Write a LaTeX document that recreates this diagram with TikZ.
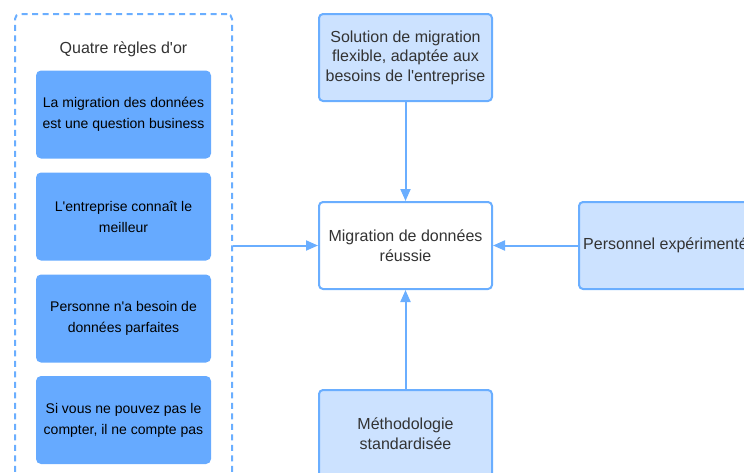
\documentclass[tikz,border=0pt]{standalone}
\usepackage{fontspec}
\setmainfont{Liberation Sans}[Ligatures=TeXOff]
\usetikzlibrary{arrows.meta}
\definecolor{edge}{HTML}{6AAEFF}
\definecolor{light}{HTML}{CCE2FF}
\definecolor{rule}{HTML}{66AAFF}
\definecolor{ink}{HTML}{333333}
\tikzset{
  lightbox/.style={draw=edge, line width=2pt, fill=light, rounded corners=4pt, minimum width=173pt, minimum height=87pt, inner sep=0pt, align=center, text=ink, font=\fontsize{16}{19.4}\selectfont},
  whitebox/.style={lightbox, fill=white},
  rulebox/.style={fill=rule, rounded corners=5pt, minimum width=175pt, minimum height=88pt, inner sep=0pt, align=center, text=black, font=\fontsize{14}{21}\selectfont},
  frame/.style={draw=edge, line width=2pt, dash pattern=on 6pt off 4.5pt, rounded corners=5pt, minimum width=217pt, minimum height=480pt, inner sep=0pt},
  link/.style={draw=edge, line width=2pt, -{Triangle[length=12pt,width=10pt]}}
}
\begin{document}
\begin{tikzpicture}[x=1pt,y=-1pt]
\useasboundingbox (0,0) rectangle (744,472);
\node[frame] (group) at (123.5,254) {};
\node[text=ink, font=\fontsize{16}{19}\selectfont] (title) at (123.5,49) {Quatre règles d'or};
\node[rulebox] (r1) at (123.5,114.5) {La migration des données\\est une question business};
\node[rulebox] (r2) at (123.5,216.5) {L'entreprise connaît le\\meilleur};
\node[rulebox] (r3) at (123.5,318.5) {Personne n'a besoin de\\données parfaites};
\node[rulebox] (r4) at (123.5,420) {Si vous ne pouvez pas le\\compter, il ne compte pas};
\node[lightbox] (top) at (405.5,57.5) {Solution de migration\\flexible, adaptée aux\\besoins de l'entreprise};
\node[whitebox] (mid) at (405.5,245.5) {Migration de données\\réussie};
\node[lightbox] (right) at (665.5,245.5) {Personnel expérimenté};
\node[lightbox] (bot) at (405.5,433.5) {Méthodologie\\standardisée};
\draw[link] (top.south) -- (mid.north);
\draw[link] (bot.north) -- (mid.south);
\draw[link] (right.west) -- (mid.east);
\draw[link] (group.east |- mid.west) -- (mid.west);
\end{tikzpicture}
\end{document}
